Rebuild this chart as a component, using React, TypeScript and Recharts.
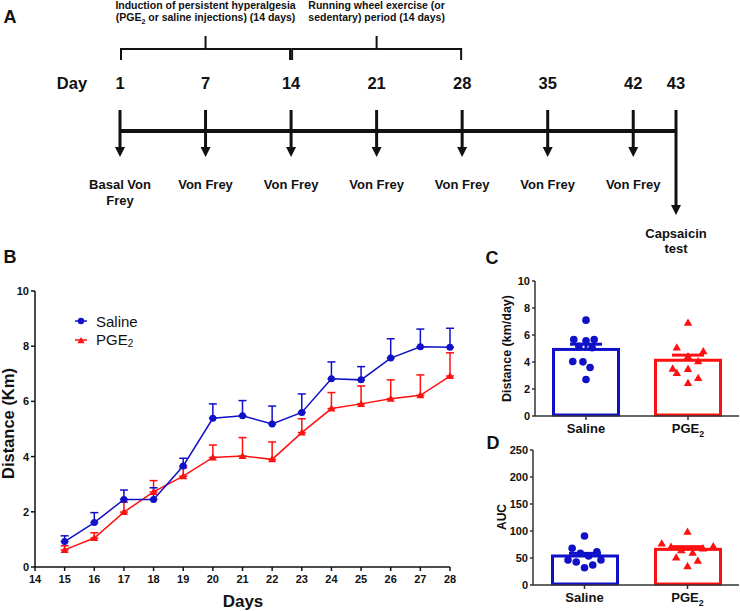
import {
  ComposedChart, LineChart, Line, Bar, Scatter, XAxis, YAxis,
  ErrorBar, ReferenceLine,
} from 'recharts'

const FONT = '"Liberation Sans", Arial, sans-serif'
const BLUE = '#1010c8'
const RED = '#ff1010'
const INK = '#111111'

// ---- panel A: protocol timeline ----
const TIMELINE_DAYS = [1, 7, 14, 21, 28, 35, 42, 43]
const TIMELINE_SLOTS = [0, 1, 2, 3, 4, 5, 6, 6.5]
const TIMELINE_EVENTS = [
  ['Basal Von', 'Frey'], ['Von Frey'], ['Von Frey'], ['Von Frey'],
  ['Von Frey'], ['Von Frey'], ['Von Frey'], ['Capsaicin', 'test'],
]
const PERIOD_START = [1, 14]
const PERIOD_END = [14, 28]
const PERIOD_TEXT = [
  ['Induction of persistent hyperalgesia', '(PGE₂ or saline injections) (14 days)'],
  ['Running wheel exercise (or', 'sedentary) period (14 days)'],
]

// ---- panel B: daily running distance ----
const DAYS = [15, 16, 17, 18, 19, 20, 21, 22, 23, 24, 25, 26, 27, 28]
const DAY_TICKS = [14, 15, 16, 17, 18, 19, 20, 21, 22, 23, 24, 25, 26, 27, 28]
const SALINE_KM = [0.92, 1.61, 2.45, 2.45, 3.66, 5.39, 5.48, 5.18, 5.6, 6.82, 6.78, 7.57, 7.98, 7.96]
const SALINE_KM_SEM = [0.21, 0.36, 0.34, 0.42, 0.28, 0.52, 0.55, 0.65, 0.67, 0.61, 0.48, 0.7, 0.64, 0.69]
const PGE_KM = [0.62, 1.05, 1.99, 2.72, 3.29, 3.97, 4.02, 3.9, 4.87, 5.74, 5.91, 6.1, 6.22, 6.92]
const PGE_KM_SEM = [0.15, 0.19, 0.36, 0.41, 0.3, 0.45, 0.67, 0.63, 0.5, 0.58, 0.65, 0.68, 0.74, 0.84]
const KM_TICKS = [0, 2, 4, 6, 8, 10]

// ---- panels C and D: group summaries ----
const GROUPS = ['Saline', 'PGE₂']
const GROUP_COLORS = [BLUE, RED]
const C_MEAN = [4.93, 4.13]
const C_SEM = [0.39, 0.38]
const C_SALINE_PTS = [7.1, 5.67, 5.57, 5.67, 5.17, 5.05, 4.04, 4.01, 3.59, 2.7]
const C_PGE_PTS = [6.91, 5.08, 4.8, 4.43, 4.06, 3.52, 3.5, 3.19, 2.82, 2.45]
const C_TICKS = [0, 2, 4, 6, 8, 10]
const D_MEAN = [53.7, 66]
const D_SEM = [4.9, 5]
const D_SALINE_PTS = [90.7, 68, 61.7, 58.6, 53.7, 46.3, 46.3, 42.6, 37, 32]
const D_PGE_PTS = [98.8, 77, 72, 71, 68, 64.8, 59.8, 51.2, 45, 35.2]
const D_TICKS = [0, 50, 100, 150, 200, 250]

// horizontal spread of the dots inside each bar (fraction of a category)
const C_SALINE_JIT = [0, -0.12, 0, 0.08, -0.07, 0.06, -0.13, -0.03, 0.04, 0]
const C_PGE_JIT = [0, -0.11, 0.15, 0, 0.1, -0.15, 0, -0.11, 0.1, 0]
const D_SALINE_JIT = [0, -0.12, 0.12, -0.04, 0.04, -0.16, 0.16, -0.08, 0.08, 0]
const D_PGE_JIT = [0, -0.25, 0.25, -0.16, 0.15, -0.06, 0.05, -0.11, 0.1, 0]

const tri = (cx: number, cy: number, s: number) =>
  `M${cx},${cy - s} L${cx + s},${cy + s * 0.75} L${cx - s},${cy + s * 0.75} Z`

function withSub(text: string, size: number) {
  const parts = text.split('₂')
  const out: any[] = [parts[0]]
  for (let i = 1; i < parts.length; i++) {
    out.push(<tspan key={`s${i}`} fontSize={size * 0.68} dy={size * 0.28}>2</tspan>)
    out.push(<tspan key={`r${i}`} dy={-size * 0.28}>{parts[i]}</tspan>)
  }
  return out
}

/* eslint-disable @typescript-eslint/no-explicit-any */
function EventMark({ cx, cy, payload }: any) {
  const tip = payload.final ? cy + 84 : cy + 26
  const textY = payload.final ? cy + 102 : cy + 53
  const gap = payload.final ? 15 : 16
  return (
    <g fontFamily={FONT} fontWeight="bold" fill={INK}>
      <text x={cx} y={cy - 48} textAnchor="middle" dominantBaseline="central" fontSize={16.5}>
        {payload.day}
      </text>
      <line x1={cx} y1={cy - 21} x2={cx} y2={tip - 6} stroke={INK} strokeWidth={3} />
      <path d={`M${cx - 5},${tip - 10} L${cx + 5},${tip - 10} L${cx},${tip} Z`} fill={INK} />
      {payload.lines.map((t: string, i: number) => (
        <text key={i} x={cx} y={textY + i * gap} textAnchor="middle"
              dominantBaseline="central" fontSize={13}>{t}</text>
      ))}
    </g>
  )
}

function PeriodText({ cx, cy, payload }: any) {
  return (
    <g fontFamily={FONT} fontWeight="bold" fill={INK} fontSize={10.5}>
      {payload.lines.map((t: string, i: number) => (
        <text key={i} x={cx} y={cy - 40 + i * 12} textAnchor="middle">{withSub(t, 10.5)}</text>
      ))}
    </g>
  )
}

function Timeline() {
  const slotOf = (d: number) => TIMELINE_SLOTS[TIMELINE_DAYS.indexOf(d)]
  const events = TIMELINE_DAYS.map((d, i) => ({
    slot: TIMELINE_SLOTS[i], row: 0, day: d, lines: TIMELINE_EVENTS[i],
    final: i === TIMELINE_DAYS.length - 1,
  }))
  const periods = PERIOD_START.map((s, i) => ({
    slot: (slotOf(s) + slotOf(PERIOD_END[i])) / 2, row: 8.2, lines: PERIOD_TEXT[i],
  }))
  const gap = 0.012
  const last = TIMELINE_SLOTS[TIMELINE_SLOTS.length - 1]
  return (
    <ComposedChart width={740} height={270} margin={{ top: 0, right: 64, bottom: 0, left: 120 }}>
      <XAxis type="number" dataKey="slot" domain={[0, last]} hide />
      <YAxis type="number" dataKey="row" domain={[-13.9, 13.1]} hide />
      <ReferenceLine segment={[{ x: 0, y: 0 }, { x: last, y: 0 }]} stroke={INK} strokeWidth={4} />
      {PERIOD_START.map((s, i) => {
        const a = slotOf(s) + gap
        const b = slotOf(PERIOD_END[i]) - gap
        const m = (slotOf(s) + slotOf(PERIOD_END[i])) / 2
        return [
          <ReferenceLine key={`h${i}`} segment={[{ x: a, y: 8.2 }, { x: b, y: 8.2 }]} stroke={INK} strokeWidth={2} />,
          <ReferenceLine key={`l${i}`} segment={[{ x: a, y: 8.3 }, { x: a, y: 7.1 }]} stroke={INK} strokeWidth={2} />,
          <ReferenceLine key={`r${i}`} segment={[{ x: b, y: 8.3 }, { x: b, y: 7.1 }]} stroke={INK} strokeWidth={2} />,
          <ReferenceLine key={`t${i}`} segment={[{ x: m, y: 9.5 }, { x: m, y: 8.2 }]} stroke={INK} strokeWidth={2} />,
        ]
      })}
      <Scatter data={periods} dataKey="row" shape={PeriodText} isAnimationActive={false} />
      <Scatter data={events} dataKey="row" shape={EventMark} isAnimationActive={false} />
    </ComposedChart>
  )
}

const tickStyle = { fontSize: 11, fontWeight: 'bold', fill: INK, fontFamily: FONT }

function DistanceChart() {
  const rows = DAYS.map((d, i) => ({
    day: d,
    saline: SALINE_KM[i], salineErr: [0, SALINE_KM_SEM[i]],
    pge: PGE_KM[i], pgeErr: [0, PGE_KM_SEM[i]],
  }))
  return (
    <LineChart width={470} height={341} data={rows} margin={{ top: 21, right: 20, bottom: 0, left: 0 }}>
      <XAxis type="number" dataKey="day" domain={[14, 28]} ticks={DAY_TICKS} interval={0}
             height={44} tickSize={4} tickMargin={4} tick={tickStyle}
             axisLine={{ stroke: INK, strokeWidth: 1.5 }} tickLine={{ stroke: INK, strokeWidth: 1.5 }} />
      <YAxis type="number" domain={[0, 10]} ticks={KM_TICKS} width={35} tickSize={4} tickMargin={2}
             tick={tickStyle}
             axisLine={{ stroke: INK, strokeWidth: 1.5 }} tickLine={{ stroke: INK, strokeWidth: 1.5 }} />
      <Line dataKey="pge" stroke={RED} strokeWidth={1.5} isAnimationActive={false}
            dot={(p: any) => <path key={`t${p.index}`} d={tri(p.cx, p.cy, 4)} fill={RED} />}>
        <ErrorBar dataKey="pgeErr" direction="y" width={4} stroke={RED} strokeWidth={1.5} />
      </Line>
      <Line dataKey="saline" stroke={BLUE} strokeWidth={1.5} isAnimationActive={false}
            dot={{ r: 3.5, fill: BLUE, stroke: BLUE, strokeWidth: 0 }}>
        <ErrorBar dataKey="salineErr" direction="y" width={4} stroke={BLUE} strokeWidth={1.5} />
      </Line>
    </LineChart>
  )
}

function MeanBar({ x, y, width, height, payload }: any) {
  const color = GROUP_COLORS[GROUPS.indexOf(payload.name)]
  const semPx = payload.mean ? (height * payload.sem) / payload.mean : 0
  const cx = x + width / 2
  return (
    <g>
      <rect x={x + 1.5} y={y} width={width - 3} height={height - 1} fill="#fff" stroke={color} strokeWidth={3} />
      <line x1={cx} y1={y} x2={cx} y2={y - semPx} stroke={color} strokeWidth={3} />
      <line x1={cx - 16} y1={y - semPx} x2={cx + 16} y2={y - semPx} stroke={color} strokeWidth={3} />
    </g>
  )
}

function GroupTick({ x, y, payload }: any) {
  return (
    <text x={x} y={y} dy={11} textAnchor="middle" fontSize={13} fontWeight="bold"
          fill={INK} fontFamily={FONT}>
      {withSub(String(payload.value), 13)}
    </text>
  )
}

const dotShape = ({ cx, cy }: any) => <circle cx={cx} cy={cy} r={3.8} fill={BLUE} />
const triShape = ({ cx, cy }: any) => <path d={tri(cx, cy, 4.2)} fill={RED} />

interface GroupProps {
  width: number
  height: number
  top: number
  yWidth: number
  xHeight: number
  mean: number[]
  sem: number[]
  ticks: number[]
  salinePts: number[]
  salineJit: number[]
  pgePts: number[]
  pgeJit: number[]
}

function GroupChart(p: GroupProps) {
  const bars = GROUPS.map((g, i) => ({ name: g, mean: p.mean[i], sem: p.sem[i] }))
  const sal = p.salinePts.map((v, i) => ({ x: 0.5 + p.salineJit[i], y: v }))
  const pge = p.pgePts.map((v, i) => ({ x: 1.5 + p.pgeJit[i], y: v }))
  const top = p.ticks[p.ticks.length - 1]
  return (
    <ComposedChart width={p.width} height={p.height} data={bars}
                   margin={{ top: p.top, right: 1, bottom: 0, left: 0 }}>
      <XAxis dataKey="name" height={p.xHeight} tickSize={4} tickMargin={2} tick={<GroupTick />}
             axisLine={{ stroke: '#333', strokeWidth: 1.5 }} tickLine={{ stroke: '#333', strokeWidth: 1.5 }} />
      <XAxis xAxisId="pts" type="number" dataKey="x" domain={[0, 2]} allowDataOverflow hide />
      <YAxis type="number" domain={[0, top]} ticks={p.ticks} width={p.yWidth} tickSize={3} tickMargin={2}
             tick={tickStyle}
             axisLine={{ stroke: '#333', strokeWidth: 1.5 }} tickLine={{ stroke: '#333', strokeWidth: 1.5 }} />
      <Bar dataKey="mean" barSize={68} shape={MeanBar} isAnimationActive={false} />
      <Scatter xAxisId="pts" data={sal} dataKey="y" shape={dotShape} isAnimationActive={false} />
      <Scatter xAxisId="pts" data={pge} dataKey="y" shape={triShape} isAnimationActive={false} />
    </ComposedChart>
  )
}

function Label({ x, y, size, text, rotate, weight = 'bold' }: any) {
  return (
    <div style={{
      position: 'absolute', left: x - 150, top: y - size, width: 300, height: size * 2,
      lineHeight: `${size * 2}px`, textAlign: 'center', fontSize: size, fontWeight: weight,
      color: INK, whiteSpace: 'nowrap', transform: rotate ? 'rotate(-90deg)' : undefined,
    }}>{text}</div>
  )
}

function LegendRow({ y, color, tri: isTri, children }: any) {
  return (
    <div style={{ position: 'absolute', left: 74, top: y - 10, height: 20, display: 'flex', alignItems: 'center' }}>
      <svg width={14} height={12} style={{ marginRight: 8 }}>
        <line x1={1} y1={6} x2={13} y2={6} stroke={color} strokeWidth={1.5} />
        {isTri ? <path d={tri(7, 6.5, 3.6)} fill={color} /> : <circle cx={7} cy={6} r={3.2} fill={color} />}
      </svg>
      <span style={{ fontSize: 15, color: INK }}>{children}</span>
    </div>
  )
}

export default function App() {
  return (
    <div style={{ position: 'absolute', left: 0, top: 0, width: 740, height: 611, background: '#fff', fontFamily: FONT }}>
      <div style={{ position: 'absolute', left: 0, top: 0 }}>
        <Timeline />
      </div>
      <div style={{ position: 'absolute', left: 0, top: 270 }}>
        <DistanceChart />
      </div>
      <div style={{ position: 'absolute', left: 470, top: 270 }}>
        <GroupChart width={270} height={170} top={11} yWidth={65} xHeight={24}
                    mean={C_MEAN} sem={C_SEM} ticks={C_TICKS}
                    salinePts={C_SALINE_PTS} salineJit={C_SALINE_JIT}
                    pgePts={C_PGE_PTS} pgeJit={C_PGE_JIT} />
      </div>
      <div style={{ position: 'absolute', left: 470, top: 440 }}>
        <GroupChart width={270} height={171} top={10} yWidth={63} xHeight={26}
                    mean={D_MEAN} sem={D_SEM} ticks={D_TICKS}
                    salinePts={D_SALINE_PTS} salineJit={D_SALINE_JIT}
                    pgePts={D_PGE_PTS} pgeJit={D_PGE_JIT} />
      </div>

      <Label x={10} y={17} size={18} text="A" />
      <Label x={10} y={257} size={18} text="B" />
      <Label x={492} y={258} size={18} text="C" />
      <Label x={493} y={443} size={18} text="D" />
      <Label x={72} y={83} size={16.5} text="Day" />
      <Label x={8} y={423} size={16.5} text="Distance (Km)" rotate />
      <Label x={243} y={602} size={17} text="Days" />
      <Label x={507} y={348} size={12.5} text="Distance (km/day)" rotate />
      <Label x={502} y={517} size={12} text="AUC" rotate />

      <LegendRow y={321} color={BLUE}>Saline</LegendRow>
      <LegendRow y={340} color={RED} tri>
        PGE<span style={{ fontSize: 10, verticalAlign: -2 }}>2</span>
      </LegendRow>
    </div>
  )
}
